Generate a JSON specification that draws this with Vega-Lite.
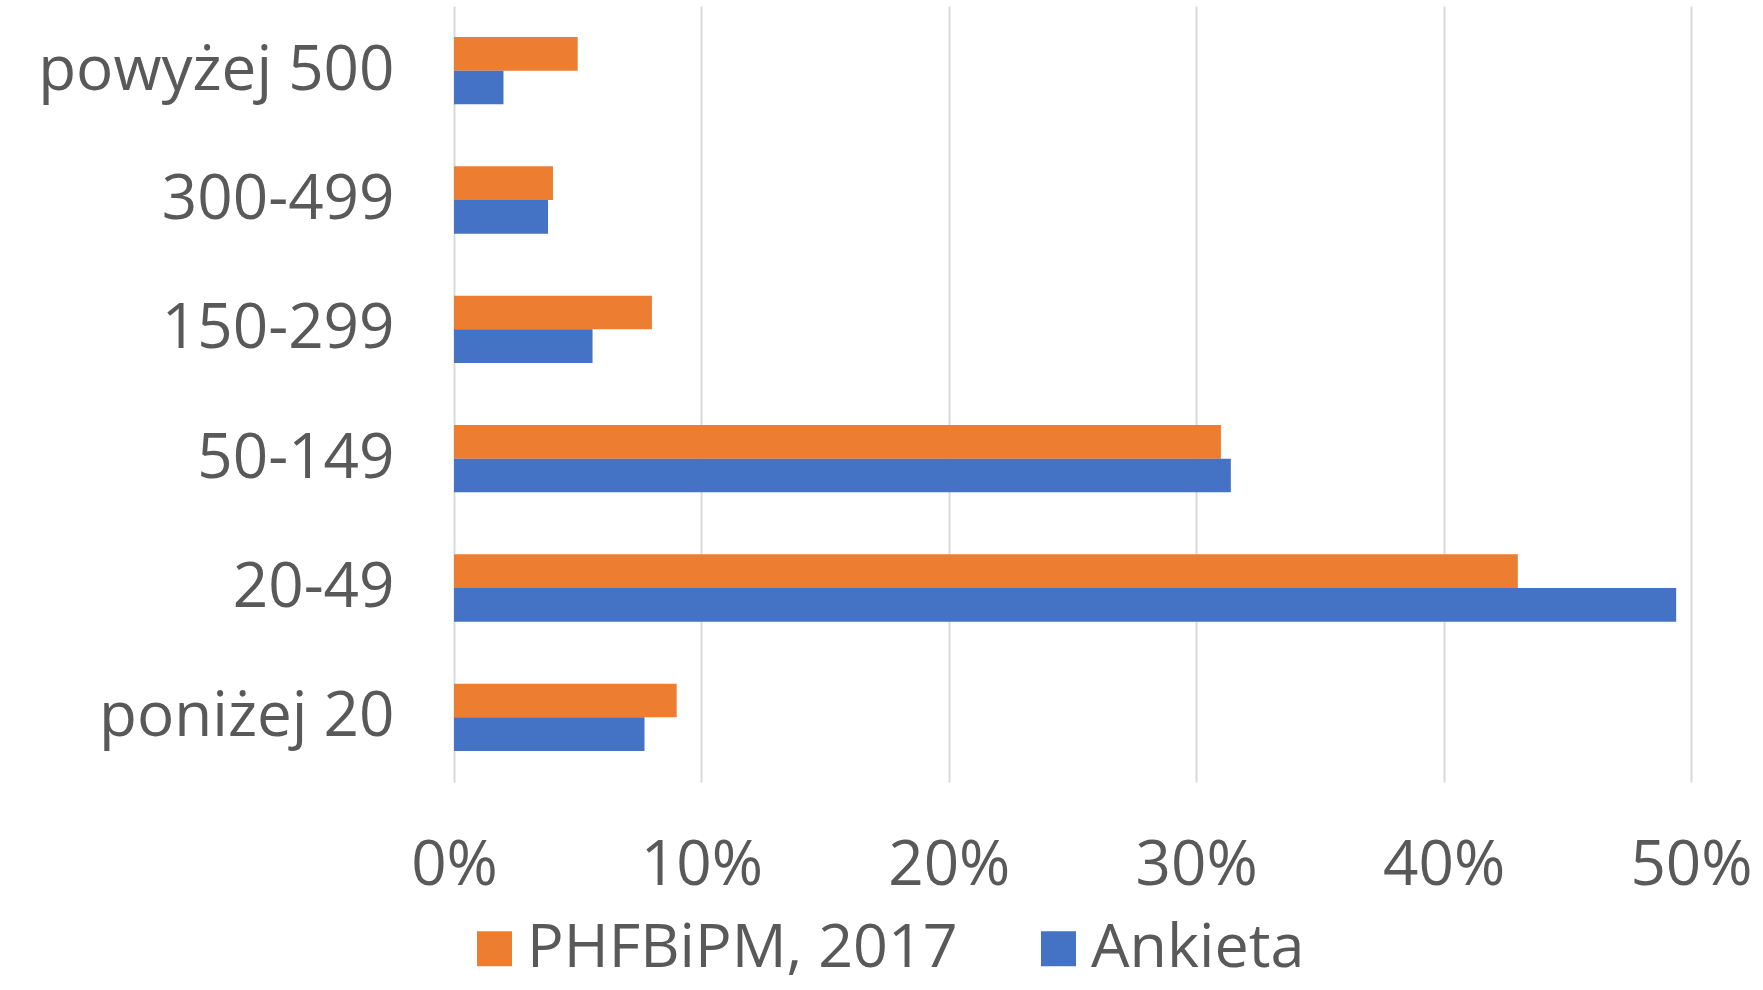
{
  "$schema": "https://vega.github.io/schema/vega-lite/v6.json",
  "width": 1237,
  "height": 776,
  "autosize": {"type": "none"},
  "padding": {"left": 454, "top": 6, "right": 72, "bottom": 208},
  "background": "white",
  "config": {
    "view": {"stroke": null},
    "font": "Open Sans"
  },
  "data": {
    "values": [
      {"kategoria": "powyżej 500", "seria": "PHFBiPM, 2017", "wartosc": 0.050},
      {"kategoria": "powyżej 500", "seria": "Ankieta", "wartosc": 0.020},
      {"kategoria": "300-499", "seria": "PHFBiPM, 2017", "wartosc": 0.040},
      {"kategoria": "300-499", "seria": "Ankieta", "wartosc": 0.038},
      {"kategoria": "150-299", "seria": "PHFBiPM, 2017", "wartosc": 0.080},
      {"kategoria": "150-299", "seria": "Ankieta", "wartosc": 0.056},
      {"kategoria": "50-149", "seria": "PHFBiPM, 2017", "wartosc": 0.310},
      {"kategoria": "50-149", "seria": "Ankieta", "wartosc": 0.314},
      {"kategoria": "20-49", "seria": "PHFBiPM, 2017", "wartosc": 0.430},
      {"kategoria": "20-49", "seria": "Ankieta", "wartosc": 0.494},
      {"kategoria": "poniżej 20", "seria": "PHFBiPM, 2017", "wartosc": 0.090},
      {"kategoria": "poniżej 20", "seria": "Ankieta", "wartosc": 0.077}
    ]
  },
  "mark": {"type": "bar", "stroke": null},
  "encoding": {
    "y": {
      "field": "kategoria",
      "type": "nominal",
      "sort": ["powyżej 500", "300-499", "150-299", "50-149", "20-49", "poniżej 20"],
      "scale": {"paddingInner": 0.48, "paddingOuter": 0.24},
      "axis": {
        "title": null,
        "domain": false,
        "ticks": false,
        "labelFontSize": 62,
        "labelColor": "#595959",
        "labelPadding": 60,
        "labelLimit": 1000,
        "labelFont": "Open Sans"
      }
    },
    "yOffset": {
      "field": "seria",
      "type": "nominal",
      "sort": ["PHFBiPM, 2017", "Ankieta"],
      "scale": {"paddingInner": 0, "paddingOuter": 0}
    },
    "x": {
      "field": "wartosc",
      "type": "quantitative",
      "scale": {"domain": [0, 0.5], "nice": false},
      "axis": {
        "title": null,
        "format": ".0%",
        "values": [0, 0.1, 0.2, 0.3, 0.4, 0.5],
        "domain": false,
        "ticks": false,
        "grid": true,
        "gridColor": "#d9d9d9",
        "gridWidth": 2,
        "labelFontSize": 62,
        "labelColor": "#595959",
        "labelPadding": 53,
        "labelFlush": false,
        "labelOverlap": false,
        "labelFont": "Open Sans"
      }
    },
    "color": {
      "field": "seria",
      "type": "nominal",
      "sort": ["PHFBiPM, 2017", "Ankieta"],
      "scale": {"domain": ["PHFBiPM, 2017", "Ankieta"], "range": ["#ED7D31", "#4472C4"]},
      "legend": {
        "title": null,
        "orient": "none",
        "direction": "horizontal",
        "legendX": 10,
        "legendY": 912,
        "symbolType": "square",
        "symbolSize": 1225,
        "symbolStrokeWidth": 0,
        "labelFontSize": 61,
        "labelColor": "#595959",
        "labelOffset": 2,
        "columnPadding": 70,
        "labelFont": "Open Sans",
        "labelLimit": 1000
      }
    }
  }
}
